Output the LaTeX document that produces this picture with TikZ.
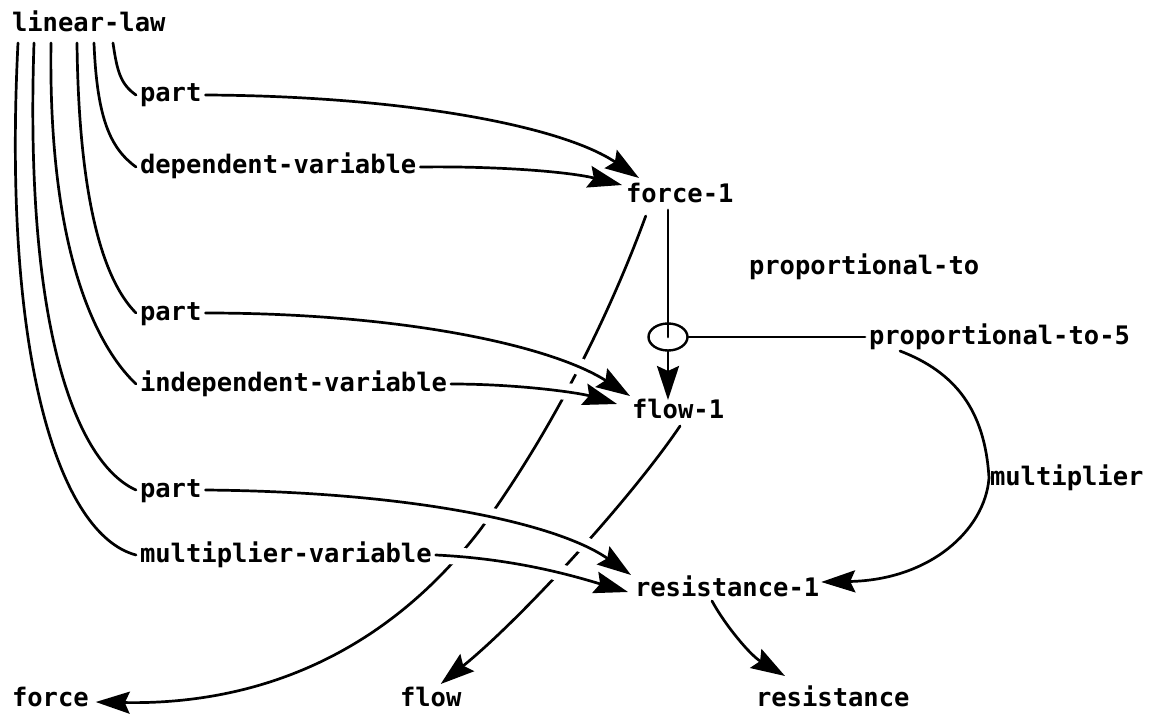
\documentclass[tikz,border=0pt]{standalone}
\usepackage{fontspec}
\newfontfamily\monofam{DejaVu Sans Mono}
\usetikzlibrary{arrows.meta,shapes.geometric}

\tikzset{
  lbl/.style={font=\monofam\bfseries\fontsize{25.5bp}{30bp}\selectfont, inner sep=0pt, outer sep=4bp,
              text height=14bp, text depth=0pt, anchor=west},
  link/.style={line width=2.7bp, line cap=round},
  arr/.style={link, -{Stealth[length=34bp, width=22bp, inset=5bp]}},
  halo/.style={draw=white, line width=17bp, shorten >=32bp, shorten <=12bp},
}

% connectors that pass over others (drawn twice: white halo, then black)
\newcommand\pathPartB{(part2.east) .. controls (400,313) and (550,345) .. ([shift={(2,-4)}]flow1.north west)}
\newcommand\pathIndep{(indep.east) .. controls (520,384) and (580,393) .. ([shift={(-11,4)}]flow1.north west)}
\newcommand\pathPartC{(part3.east) .. controls (420,492) and (560,525) .. ([shift={(0,-3)}]res1.north west)}
\newcommand\pathMultVar{(multvar.east) .. controls (520,559) and (580,578) .. ([shift={(-3,3)}]res1.west)}

\begin{document}
\begin{tikzpicture}[x=1bp, y=-1bp]
\fill[white] (0,0) rectangle (1159,716);
\useasboundingbox (0,0) rectangle (1159,716);

% labels
\node[lbl] (ll)         at (8,25)    {linear-law};
\node[lbl] (part1)      at (136,95)  {part};
\node[lbl] (depvar)     at (136,167) {dependent-variable};
\node[lbl] (force1)     at (622,196) {force-1};
\node[lbl] (propto)     at (745,267) {proportional-to};
\node[lbl] (part2)      at (136,313) {part};
\node[lbl] (prop5)      at (865,337) {proportional-to-5};
\node[lbl] (indep)      at (136,384) {independent-variable};
\node[lbl] (flow1)      at (628,411) {flow-1};
\node[lbl, outer sep=1bp] (mult) at (989,478) {multiplier};
\node[lbl] (part3)      at (136,490) {part};
\node[lbl] (multvar)    at (136,555) {multiplier-variable};
\node[lbl] (res1)       at (631,589) {resistance-1};
\node[lbl] (force)      at (8,699)   {force};
\node[lbl] (flow)       at (396,699) {flow};
\node[lbl] (resist)     at (752,699) {resistance};

% the junction
\node[draw, ellipse, line width=2.4bp, minimum width=39bp, minimum height=27bp, inner sep=0pt]
  (oval) at (668,337) {};

% roots of the slot curves under linear-law
\coordinate (r1) at (113,43);
\coordinate (r2) at (94,43);
\coordinate (r3) at (77,43);
\coordinate (r4) at (51,43);
\coordinate (r5) at (34,43);
\coordinate (r6) at (18,43);

% slot curves of linear-law
\draw[link] (r1) .. controls (117,70) and (120,84) .. (part1.west);
\draw[link] (r2) .. controls (97,118) and (110,148) .. (depvar.west);
\draw[link] (r3) .. controls (79,215) and (108,285) .. (part2.west);
\draw[link] (r4) .. controls (48,255) and (98,348) .. (indep.west);
\draw[link] (r5) .. controls (24,340) and (80,465) .. (part3.west);
\draw[link] (r6) .. controls (2,360) and (60,535) .. (multvar.west);

% long connectors that run underneath
\draw[arr] ([shift={(-34,9)}]force1.south) .. controls (615,300) and (560,420) .. (480,530)
           .. controls (380,660) and (250,705) .. ([shift={(3,3)}]force.east);
\draw[arr] ([shift={(2,4)}]flow1.south) .. controls (630,500) and (520,620) .. ([shift={(10,-4)}]flow.north);

% connectors to force-1
\draw[arr] (part1.east) .. controls (400,96) and (560,125) .. ([shift={(17,-7)}]force1.north west);
\draw[arr] (depvar.east) .. controls (500,166) and (570,172) .. (force1.north west);

% crossing connectors: halos first, then the lines
\draw[halo] \pathPartB;
\draw[halo] \pathIndep;
\draw[halo] \pathPartC;
\draw[halo] \pathMultVar;
\draw[arr] \pathPartB;
\draw[arr] \pathIndep;
\draw[arr] \pathPartC;
\draw[arr] \pathMultVar;

% proportional-to junction
\draw[link] ([yshift=-3bp]oval.center |- force1.south) -- (oval.center);
\draw[arr] (oval.south) -- (oval.south |- flow1.north);
\draw[link] (oval.east) -- (prop5.west);

% multiplier arc
\draw[arr] ([shift={(35,3)}]prop5.south west) .. controls (955,372) and (985,410) .. (mult.west)
           .. controls (985,530) and (930,580) .. ([shift={(-2,-7)}]res1.east);

% resistance-1 to resistance
\draw[arr] ([shift={(81,1)}]res1.south west) .. controls (725,625) and (750,655) .. ([shift={(33,-12)}]resist.north west);
\end{tikzpicture}
\end{document}
